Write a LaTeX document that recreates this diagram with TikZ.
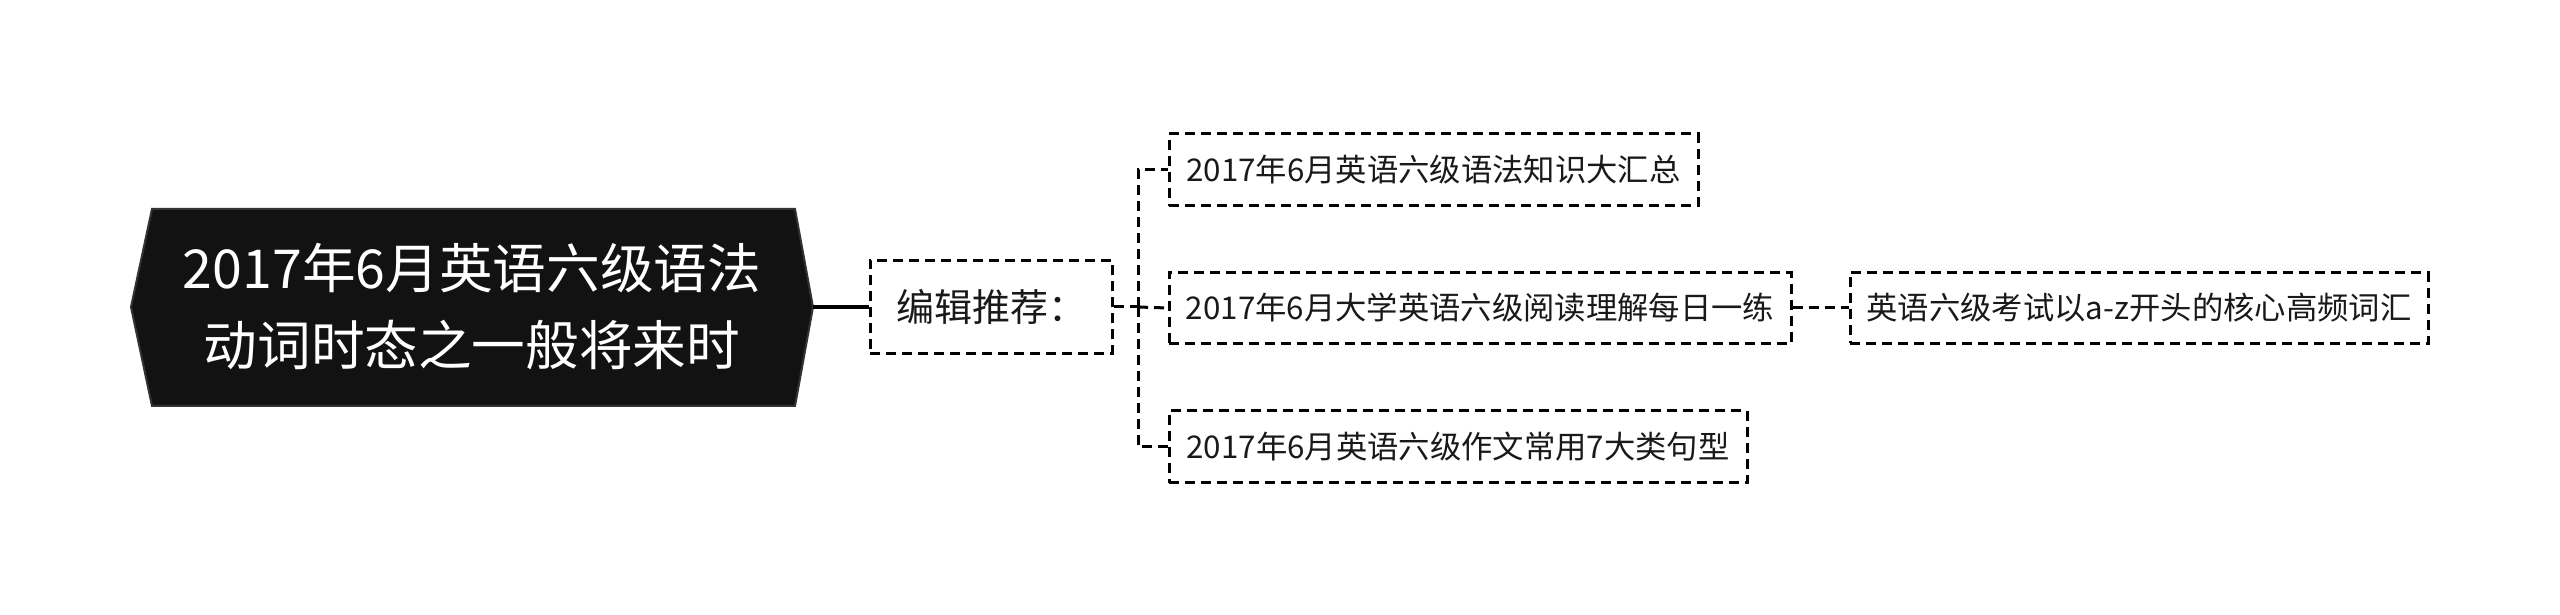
\documentclass[tikz,border=0pt]{standalone}
\usepackage{fontspec}
\newfontfamily\cjk{Noto Sans CJK SC}
\begin{document}
\begin{tikzpicture}[x=0.3pt,y=-0.3pt,
  dbox/.style={draw=black, line width=0.9pt, dash pattern=on 3pt off 1.8pt, inner sep=0pt, text=black!90},
  small/.style={dbox, font=\cjk\fontsize{9.4}{11}\selectfont},
  conn/.style={draw=black, line width=0.9pt, dash pattern=on 3pt off 1.8pt}]
\useasboundingbox (0,0) rectangle (2560,615);
% root
\fill[fill=black!93, draw=black!80, line width=0.6pt] (131,307) -- (152,209) -- (795,209) -- (813,307) -- (795,406) -- (152,406) -- cycle;
\node[text=white, align=center, font=\cjk\fontsize{16.1}{23.1}\selectfont] (root) at (472,307) {2017年6月英语六级语法\\动词时态之一般将来时};
\coordinate (rootE) at (813,307);
% edit node
\node[dbox, minimum width=242*0.3pt, minimum height=93*0.3pt, font=\cjk\fontsize{11.4}{13}\selectfont] (edit) at (991,307) {编辑推荐：};
\draw[line width=1.3pt] (rootE) -- (edit.west);
% children
\node[small, minimum width=529*0.3pt, minimum height=72*0.3pt] (b1) at (1433.5,170) {2017年6月英语六级语法知识大汇总};
\node[small, minimum width=622*0.3pt, minimum height=71*0.3pt] (b2) at (1480,308) {2017年6月大学英语六级阅读理解每日一练};
\node[small, minimum width=578*0.3pt, minimum height=72*0.3pt] (b3) at (1458,447) {2017年6月英语六级作文常用7大类句型};
\node[small, minimum width=578*0.3pt, minimum height=71*0.3pt] (r1) at (2139,308) {英语六级考试以a-z开头的核心高频词汇};
\coordinate (jx) at (1138,307);
\draw[conn] (edit.east) -- (jx);
\draw[conn] (jx) |- (b1.west);
\draw[conn] (jx) |- (b3.west);
\draw[conn] (jx) -- (b2.west);
\draw[conn] (b2.east) -- (r1.west);
\end{tikzpicture}
\end{document}
